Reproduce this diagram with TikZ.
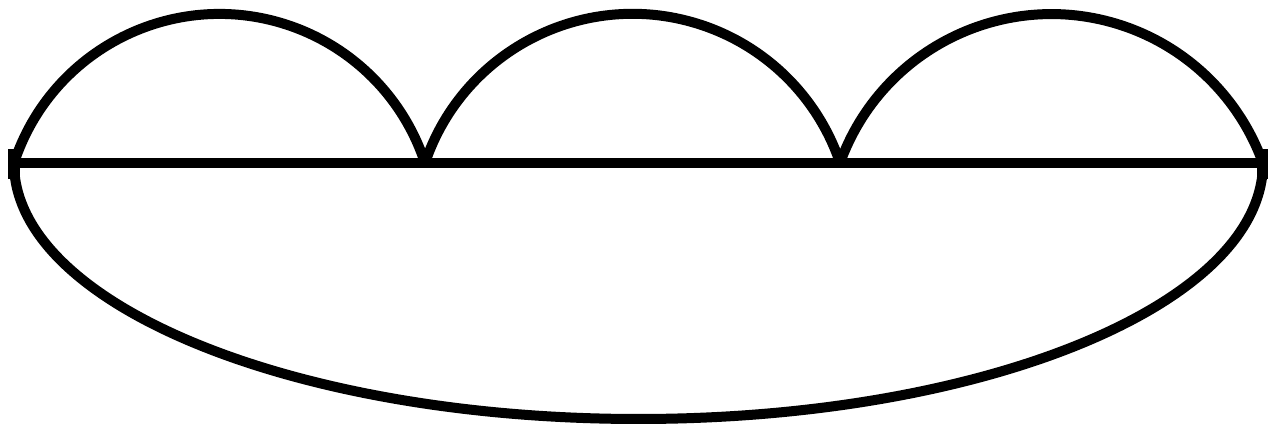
\documentclass[tikz,border=0pt]{standalone}
\begin{document}
\begin{tikzpicture}[x=0.02cm, y=0.02cm, line width=0.2cm,
  endbar/.style={line width=0.24cm}]
  \useasboundingbox (0,0) rectangle (1268,429);
  % vertices on the line
  \coordinate (v1) at (14,266);
  \coordinate (v2) at (425,266);
  \coordinate (v3) at (840,266);
  \coordinate (v4) at (1263,266);
  % straight line
  \draw (v1) -- (v2) -- (v3) -- (v4);
  % the three arcs above
  \draw (v1) arc[start angle=161.9, end angle=18.1, radius=216.2];
  \draw (v2) arc[start angle=161.4, end angle=18.6, radius=219.0];
  \draw (v3) arc[start angle=160.3, end angle=19.7, radius=224.6];
  % big arc below
  \draw (v1) arc[start angle=180, end angle=360, x radius=624.5, y radius=256];
  % end bars
  \draw[endbar] ([yshift=-0.32cm]v1) -- ([yshift=0.28cm]v1);
  \draw[endbar] ([yshift=-0.32cm]v4) -- ([yshift=0.28cm]v4);
\end{tikzpicture}
\end{document}
